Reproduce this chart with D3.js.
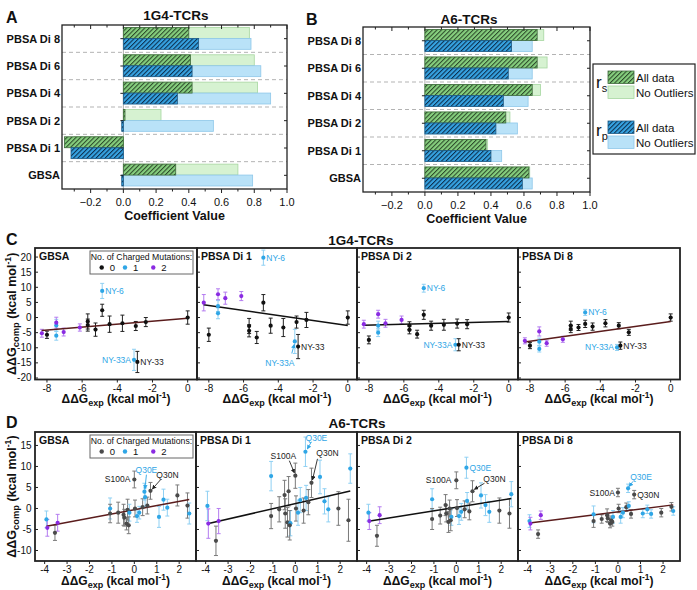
<!DOCTYPE html>
<html><head><meta charset="utf-8">
<script src="https://cdn.jsdelivr.net/npm/d3@7"></script>
<style>body{margin:0;background:#fff}</style>
</head><body>
<script>
// ---------------- DATA ----------------
const methods = ["PBSA Di 8","PBSA Di 6","PBSA Di 4","PBSA Di 2","PBSA Di 1","GBSA"];
const coefTicks = [-0.2,0,0.2,0.4,0.6,0.8,1.0];
// 1G4 correlation coefficients
const g1RsAll   = [0.40,0.41,0.42,0.01,-0.36,0.32];
const g1RsNoOut = [0.77,0.80,0.82,0.23,-0.30,0.70];
const g1RpAll   = [0.46,0.42,0.33,-0.01,-0.32,-0.01];
const g1RpNoOut = [0.78,0.84,0.90,0.55,-0.28,0.79];
// A6 correlation coefficients
const a6RsAll   = [0.68,0.68,0.65,0.49,0.37,0.63];
const a6RsNoOut = [0.72,0.74,0.70,0.515,0.38,0.635];
const a6RpAll   = [0.525,0.505,0.475,0.43,0.40,0.59];
const a6RpNoOut = [0.65,0.65,0.625,0.56,0.465,0.65];

const scatterPanels = ["GBSA","PBSA Di 1","PBSA Di 2","PBSA Di 8"];
const chargeLevels = [0,1,2];

// 1G4 mutants (panel C)
const g1Exp    = [-8.29,-8.0,-7.47,-7.47,-7.47,-7.05,-6.13,-5.68,-5.68,-5.24,-4.86,-4.86,-4.44,-3.71,-3.05,-2.95,-2.86,-2.38,0];
const g1Charge = [2,0,1,1,2,2,2,0,0,0,0,1,0,0,1,0,0,0,0];
const g1Names  = ["","","","","","","","","","","","NY-6","","","NY-33A","","NY-33","",""];
const g1CompGBSA = [-5.2,-5.7,-2.6,-6.0,-1.7,-4.8,-3.3,-1.3,-2.5,-4.0,2.4,8.8,-2.2,-1.9,-14.0,-2.8,-14.7,-1.5,0.0];
const g1ErrGBSA  = [1.3,1.2,2.0,1.5,1.8,1.3,1.2,2.5,2.0,2.2,2.0,2.5,2.7,2.7,3.5,1.5,3.5,1.5,2.2];
const g1CompDi1  = [4.9,-5.7,3.8,1.4,7.7,6.4,7.1,-2.8,-4.4,-6.6,4.9,19.8,-2.7,-3.3,-7.9,-1.5,-9.6,-0.8,0.0];
const g1ErrDi1   = [2.7,2.2,1.8,1.8,1.8,2.0,1.5,2.5,2.0,2.0,2.7,2.5,2.5,3.0,4.0,2.0,4.0,2.5,2.2];
const g1CompDi2  = [-2.2,-7.4,-2.7,-5.0,1.1,-1.9,-0.8,-2.7,-4.1,-5.5,0.9,9.7,-2.7,-2.4,-9.0,-2.0,-9.0,-2.2,0.0];
const g1ErrDi2   = [1.3,1.3,1.5,1.3,1.3,1.3,1.3,1.3,1.3,1.3,1.5,1.3,1.5,1.8,2.0,1.5,2.0,1.5,1.5];
const g1CompDi8  = [-7.7,-9.3,-8.0,-10.4,-4.6,-8.5,-7.2,-2.7,-3.8,-3.3,-2.1,1.7,-3.0,-1.9,-9.9,-2.7,-9.3,-4.9,0.0];
const g1ErrDi8   = [1.0,1.0,1.2,1.0,1.5,1.0,1.0,1.5,1.2,1.0,1.2,1.0,1.2,1.2,1.0,1.0,1.2,1.0,1.2];
const g1FitIntercept = [-0.2,-2.6,-1.35,-1.35];
const g1FitSlope     = [0.49,-0.82,0.15,0.81];
const g1FitRange     = [-8.3,0];

// A6 mutants (panel D)
const a6Exp    = [-3.92,-3.88,-3.54,-3.42,-1.08,-1.08,-0.72,-0.48,-0.45,-0.35,-0.30,-0.22,-0.25,0.0,0.03,0.12,0.22,0.37,0.45,0.48,0.58,0.72,1.1,1.3,1.47,1.92,2.37,2.45];
const a6Charge = [1,2,0,2,1,0,0,0,0,0,0,1,0,0,0,1,1,0,1,1,0,0,1,1,1,0,0,1];
const a6Names  = ["","","","","","","","","","","","","","S100A","","","","","Q30E","","","Q30N","","","","","",""];
const a6CompGBSA = [-2.6,-4.6,-5.8,-3.4,0.0,-1.2,-1.0,-1.5,-2.2,-3.6,-0.3,-1.0,-4.0,6.9,0.0,-1.8,-1.0,0.3,4.0,2.7,0.7,4.2,-2.0,2.1,0.2,3.1,0.7,-1.2];
const a6ErrGBSA  = [2.0,2.0,1.8,2.0,2.5,2.2,2.5,2.5,2.0,1.5,2.5,2.0,2.0,2.0,2.0,1.5,1.5,2.0,2.0,2.2,2.0,2.0,2.5,2.5,2.0,2.5,3.0,2.5];
const a6CompDi1  = [0.6,-3.6,-7.7,-3.0,7.7,-1.8,-0.2,3.2,-1.2,-3.3,4.1,-3.5,-4.0,7.8,0.0,-1.0,2.0,-0.5,13.5,2.5,1.5,6.1,7.5,1.7,-0.2,0.0,-2.8,9.5];
const a6ErrDi1   = [3.5,3.5,3.5,3.0,3.5,3.0,3.0,3.5,3.5,3.5,3.5,3.0,3.5,3.0,3.0,3.0,3.0,3.0,3.5,3.0,3.0,3.5,4.0,3.0,3.0,4.0,5.0,3.5];
const a6CompDi2  = [-1.0,-3.0,-6.5,-1.6,2.2,-2.5,-1.7,0.8,-1.2,-3.2,0.0,-2.0,-2.8,6.7,0.1,-1.8,-0.8,-0.2,9.7,1.8,-0.7,4.1,3.1,0.8,-0.8,-0.5,-1.2,3.4];
const a6ErrDi2   = [2.0,2.0,2.5,2.0,2.5,2.5,2.0,2.5,2.0,2.5,2.0,2.0,2.5,2.0,2.0,2.0,2.0,2.0,2.5,2.0,2.0,2.5,3.0,2.5,2.5,3.0,3.5,3.0];
const a6CompDi8  = [-3.0,-3.6,-6.1,-1.6,-1.4,-3.0,-2.5,-1.6,-2.3,-3.6,-2.8,-2.0,-3.2,3.8,0.0,-2.0,-1.0,0.3,4.8,0.6,-1.3,3.3,-1.2,-0.2,-1.3,-1.0,0.4,-0.6];
const a6ErrDi8   = [1.5,1.5,1.0,1.0,2.0,1.5,1.0,1.5,1.0,1.0,1.0,1.5,1.0,1.0,1.0,1.5,1.2,1.0,1.0,1.0,1.0,1.0,1.0,1.0,1.0,1.0,1.0,1.0];
const a6FitIntercept = [-0.3,1.17,0.29,-0.81];
const a6FitSlope     = [1.0,1.23,0.85,0.68];
const a6FitRange     = [-3.92,2.45];

const cTicksX = [-8,-6,-4,-2,0];
const cTicksY = [-20,-15,-10,-5,0,5,10,15,20];
const dTicksX = [-4,-3,-2,-1,0,1,2];
const dTicksY = [-10,-5,0,5,10,15];

// ---------------- DRAWING ----------------
const FONT = "Arial, 'Liberation Sans', Helvetica, sans-serif";
const svg = d3.select("body").append("svg").attr("width",697).attr("height",590)
  .style("font-family",FONT);
const defs = svg.append("defs");
function hatch(id,bg,line){
  const p = defs.append("pattern").attr("id",id).attr("patternUnits","userSpaceOnUse")
    .attr("width",3.2).attr("height",3.2).attr("patternTransform","rotate(45)");
  p.append("rect").attr("width",3.2).attr("height",3.2).attr("fill",bg);
  p.append("line").attr("x1",0.5).attr("y1",0).attr("x2",0.5).attr("y2",3.2).attr("stroke",line).attr("stroke-width",1.1);
}
hatch("hg","#86cf7e","#2c4a2a");
hatch("hb","#36a3e2","#0c2e4c");
const COL = {lgF:"#d6f2d1",lgS:"#a6d6a0",lbF:"#b9e2f8",lbS:"#8ec7e9",hgS:"#3f6a3c",hbS:"#1d5a85"};
defs.append("marker").attr("id","arrK").attr("viewBox","0 0 6 6").attr("refX",5).attr("refY",3)
  .attr("markerWidth",5).attr("markerHeight",5).attr("orient","auto")
  .append("path").attr("d","M0,0 L6,3 L0,6 z").attr("fill","#222");
defs.append("marker").attr("id","arrC").attr("viewBox","0 0 6 6").attr("refX",5).attr("refY",3)
  .attr("markerWidth",5).attr("markerHeight",5).attr("orient","auto")
  .append("path").attr("d","M0,0 L6,3 L0,6 z").attr("fill","#2fa6e6");

function txt(x,y,s,opt={}){
  const t = svg.append("text").attr("x",x).attr("y",y).text(s)
    .attr("font-size",opt.fs||11).attr("font-weight",opt.fw||"normal")
    .attr("text-anchor",opt.anchor||"start").attr("fill",opt.fill||"#111");
  return t;
}

function barPanel(o){
  const x = d3.scaleLinear().domain([-0.375,1.0]).range([o.x0,o.x1]);
  const y = d3.scaleBand().domain(methods).range([o.y0,o.y1]);
  const bw = y.bandwidth(), bh = bw*0.4, off = bw*0.09;
  const g = svg.append("g");
  // separators
  methods.slice(1).forEach(m=>{
    g.append("line").attr("x1",o.x0).attr("x2",o.x1).attr("y1",y(m)).attr("y2",y(m))
      .attr("stroke","#aaa").attr("stroke-dasharray","4,3").attr("stroke-width",0.9);
  });
  g.append("line").attr("x1",x(0)).attr("x2",x(0)).attr("y1",o.y0).attr("y2",o.y1)
    .attr("stroke","#999").attr("stroke-width",0.8);
  function bars(vals,dy,fill,stroke){
    g.selectAll(null).data(vals).enter().append("rect")
      .attr("x",v=>Math.min(x(0),x(v))).attr("width",v=>Math.abs(x(v)-x(0)))
      .attr("y",(v,i)=>y(methods[i])+off+dy).attr("height",bh)
      .attr("fill",fill).attr("stroke",stroke).attr("stroke-width",0.8);
  }
  bars(o.rsNo,0,COL.lgF,COL.lgS);
  bars(o.rpNo,bh,COL.lbF,COL.lbS);
  bars(o.rsAll,0,"url(#hg)",COL.hgS);
  bars(o.rpAll,bh,"url(#hb)",COL.hbS);
  // frame
  g.append("rect").attr("x",o.x0).attr("y",o.y0).attr("width",o.x1-o.x0).attr("height",o.y1-o.y0)
    .attr("fill","none").attr("stroke","#222").attr("stroke-width",1.3);
  // ticks
  const minor = d3.range(-0.3,1.001,0.1);
  minor.forEach(v=>{
    const major = coefTicks.some(t=>Math.abs(t-v)<1e-6);
    const L = major?4:2.5;
    g.append("line").attr("x1",x(v)).attr("x2",x(v)).attr("y1",o.y1).attr("y2",o.y1+L).attr("stroke","#222");
    g.append("line").attr("x1",x(v)).attr("x2",x(v)).attr("y1",o.y0).attr("y2",o.y0+L).attr("stroke","#222");
  });
  methods.forEach(m=>{
    const yc = y(m)+bw/2;
    g.append("line").attr("x1",o.x1).attr("x2",o.x1-3).attr("y1",yc).attr("y2",yc).attr("stroke","#222");
    g.append("line").attr("x1",x(0)).attr("x2",x(0)-3).attr("y1",yc).attr("y2",yc).attr("stroke","#222");
    txt(o.x0-2,yc+4,m,{fs:11,fw:"bold",anchor:"end"});
  });
  coefTicks.forEach(t=>txt(x(t),o.y1+16.5,d3.format(".1f")(t),{fs:11,anchor:"middle"}));
  txt((o.x0+o.x1)/2,o.y1+30.5,"Coefficient Value",{fs:12.5,fw:"bold",anchor:"middle"});
  txt(o.titleX,o.titleY,o.title,{fs:13.5,fw:"bold",anchor:"middle"});
  txt(o.letterX,o.letterY,o.letter,{fs:16,fw:"bold"});
}

barPanel({x0:62,x1:287,y0:25,y1:189,rsAll:g1RsAll,rsNo:g1RsNoOut,rpAll:g1RpAll,rpNo:g1RpNoOut,
  title:"1G4-TCRs",titleX:176,titleY:20,letter:"A",letterX:6,letterY:23});
barPanel({x0:363,x1:590,y0:27,y1:192,rsAll:a6RsAll,rsNo:a6RsNoOut,rpAll:a6RpAll,rpNo:a6RpNoOut,
  title:"A6-TCRs",titleX:469,titleY:24,letter:"B",letterX:306,letterY:25});

// Legend for bars
(function(){
  const g = svg.append("g");
  g.append("rect").attr("x",593).attr("y",64).attr("width",102).attr("height",90)
    .attr("fill","#fff").attr("stroke","#222").attr("stroke-width",1.2);
  const sw = [[71,"url(#hg)",COL.hgS,"All data"],[86,COL.lgF,COL.lgS,"No Outliers"],
              [121,"url(#hb)",COL.hbS,"All data"],[136,COL.lbF,COL.lbS,"No Outliers"]];
  sw.forEach(s=>{
    g.append("rect").attr("x",608).attr("y",s[0]).attr("width",26).attr("height",12.5)
      .attr("fill",s[1]).attr("stroke",s[2]).attr("stroke-width",0.8);
    txt(636,s[0]+10.5,s[3],{fs:11.5});
  });
  const r1 = txt(596,88,"r",{fs:17});
  r1.append("tspan").attr("font-size",11).attr("dy",4).text("s");
  const r2 = txt(596,136,"r",{fs:17});
  r2.append("tspan").attr("font-size",11).attr("dy",4).text("p");
})();

const chargeColor = {C:["#111","#2fa6e6","#8a2be2"], D:["#4a4a4a","#2fa6e6","#8a2be2"]};
const errColor = {C:["#222","#8fd0f3","#b47cf0"], D:["#7a7a7a","#8fd0f3","#b47cf0"]};

function ddgLabel(t,fs,sub){
  t.append("tspan").text("ΔΔG");
  t.append("tspan").attr("font-size",fs*0.75).attr("dy",fs*0.25).text(sub);
  t.append("tspan").attr("dy",-fs*0.25).text(" (kcal mol");
  t.append("tspan").attr("font-size",fs*0.7).attr("dy",-fs*0.42).text("-1");
  t.append("tspan").attr("dy",fs*0.42).text(")");
}

function scatterRow(o){
  o.panels.forEach((pn,i)=>{
    const x = d3.scaleLinear().domain(o.xDomain).range([o.edges[i],o.edges[i+1]]);
    const y = d3.scaleLinear().domain(o.yDomain).range([o.bot,o.top]);
    const g = svg.append("g");
    const ys = o.ys[i], es = o.errs[i];
    // error bars
    o.exp.forEach((xv,k)=>{
      const c = errColor[o.key][o.charge[k]];
      const y1 = y(ys[k]-es[k]), y2 = y(ys[k]+es[k]);
      g.append("line").attr("x1",x(xv)).attr("x2",x(xv)).attr("y1",y1).attr("y2",y2).attr("stroke",c).attr("stroke-width",1);
      [y1,y2].forEach(yy=>g.append("line").attr("x1",x(xv)-2).attr("x2",x(xv)+2).attr("y1",yy).attr("y2",yy).attr("stroke",c).attr("stroke-width",1));
    });
    // fit line
    const a = o.fitA[i], b = o.fitB[i];
    g.append("line").attr("x1",x(o.fitRange[0])).attr("x2",x(o.fitRange[1]))
      .attr("y1",y(a+b*o.fitRange[0])).attr("y2",y(a+b*o.fitRange[1]))
      .attr("stroke",o.fitColor[i]).attr("stroke-width",1.5);
    // points
    o.exp.forEach((xv,k)=>{
      g.append("circle").attr("cx",x(xv)).attr("cy",y(ys[k])).attr("r",2.1)
        .attr("fill",chargeColor[o.key][o.charge[k]]);
    });
    // annotations
    o.exp.forEach((xv,k)=>{
      const nm = o.names[k]; if(!nm) return;
      const st = o.labelStyle[i][nm]; if(!st) return;
      const px = x(xv), py = y(ys[k]);
      const col = o.charge[k]===1 ? "#2fa6e6" : "#222";
      txt(px+st[0],py+st[1],nm,{fs:8.5,anchor:st[2],fill:col});
      if(st[3]){
        g.append("line").attr("x1",px+st[3][0]).attr("y1",py+st[3][1]).attr("x2",px+st[3][2]).attr("y2",py+st[3][3])
          .attr("stroke",col).attr("stroke-width",0.9).attr("marker-end",o.charge[k]===1?"url(#arrC)":"url(#arrK)");
      }
    });
    // frame
    g.append("rect").attr("x",o.edges[i]).attr("y",o.top).attr("width",o.edges[i+1]-o.edges[i]).attr("height",o.bot-o.top)
      .attr("fill","none").attr("stroke","#222").attr("stroke-width",1.8);
    // ticks
    o.yTicks.forEach(t=>{
      g.append("line").attr("x1",o.edges[i]).attr("x2",o.edges[i]+3).attr("y1",y(t)).attr("y2",y(t)).attr("stroke","#222");
      if(i===0) txt(o.edges[0]-3.5,y(t)+3.5,t,{fs:10,anchor:"end"});
    });
    o.xTicks.forEach(t=>{
      g.append("line").attr("x1",x(t)).attr("x2",x(t)).attr("y1",o.bot).attr("y2",o.bot+3).attr("stroke","#222");
      txt(x(t),o.bot+12,t,{fs:10,anchor:"middle"});
    });
    txt(o.edges[i]+4,o.top+11.5,pn,{fs:10.5,fw:"bold"});
    const xl = txt((o.edges[i]+o.edges[i+1])/2,o.bot+o.xLabelDy,"",{fs:12,fw:"bold",anchor:"middle"});
    ddgLabel(xl,12,"exp");
  });
  // y label
  const yl = svg.append("text").attr("transform",`translate(${o.yLabelX},${(o.top+o.bot)/2}) rotate(-90)`)
    .attr("text-anchor","middle").attr("font-size",12.5).attr("font-weight","bold").attr("fill","#111");
  ddgLabel(yl,12.5,"comp");
  // legend
  const lg = svg.append("g");
  lg.append("rect").attr("x",90).attr("y",o.legY).attr("width",103).attr("height",23)
    .attr("fill","#fff").attr("stroke","#666").attr("stroke-width",1);
  txt(141.5,o.legY+8.5,"No. of Charged Mutations:",{fs:8.7,anchor:"middle"});
  const lx = [101.7,125,153.3];
  chargeLevels.forEach((c,j)=>{
    lg.append("circle").attr("cx",lx[j]).attr("cy",o.legY+16.5).attr("r",2.2).attr("fill",chargeColor[o.key][c]);
    txt(lx[j]+8,o.legY+20,c,{fs:9.5});
  });
  txt(o.titleX,o.titleY,o.title,{fs:13.5,fw:"bold",anchor:"middle"});
  txt(6,o.titleY,o.letter,{fs:16,fw:"bold"});
}

scatterRow({key:"C",edges:[35,197,357,518,680],top:248,bot:379.5,xDomain:[-8.68,0.53],yDomain:[-20.5,23],
  panels:scatterPanels,exp:g1Exp,charge:g1Charge,names:g1Names,
  ys:[g1CompGBSA,g1CompDi1,g1CompDi2,g1CompDi8],errs:[g1ErrGBSA,g1ErrDi1,g1ErrDi2,g1ErrDi8],
  fitA:g1FitIntercept,fitB:g1FitSlope,fitRange:g1FitRange,fitColor:["#5a1c1c","#111","#111","#5a1c1c"],
  xTicks:cTicksX,yTicks:cTicksY,xLabelDy:23.5,yLabelX:16,legY:251,title:"1G4-TCRs",titleX:361,titleY:245,letter:"C",
  labelStyle:[
    {"NY-6":[3,3,"start"],"NY-33A":[-3,3,"end"],"NY-33":[3,3,"start"]},
    {"NY-6":[3,3,"start"],"NY-33A":[-15,25,"middle",[-3,12,-0.5,3]],"NY-33":[3,3,"start"]},
    {"NY-6":[3,3,"start"],"NY-33A":[-3,3,"end"],"NY-33":[3,3,"start"]},
    {"NY-6":[3,3,"start"],"NY-33A":[-3,3,"end"],"NY-33":[3,3,"start"]}
  ]});

scatterRow({key:"D",edges:[35,196,357,518,680],top:432,bot:561,xDomain:[-4.43,2.75],yDomain:[-12.5,18.2],
  panels:scatterPanels,exp:a6Exp,charge:a6Charge,names:a6Names,
  ys:[a6CompGBSA,a6CompDi1,a6CompDi2,a6CompDi8],errs:[a6ErrGBSA,a6ErrDi1,a6ErrDi2,a6ErrDi8],
  fitA:a6FitIntercept,fitB:a6FitSlope,fitRange:a6FitRange,fitColor:["#5a1c1c","#111","#111","#5a1c1c"],
  xTicks:dTicksX,yTicks:dTicksY,xLabelDy:24,yLabelX:16,legY:435,title:"A6-TCRs",titleX:357,titleY:428,letter:"D",
  labelStyle:[
    {"S100A":[-4,3,"end"],"Q30E":[2,-19,"middle",[2,-17,0.5,-3]],"Q30N":[17,-13,"middle",[10,-11,2,-2]]},
    {"S100A":[-12,-17,"middle",[-6,-15,-1,-3]],"Q30E":[11,-11,"middle",[6,-10,2,-3]],"Q30N":[16,-27,"middle",[6,-24,1,-3]]},
    {"S100A":[-5,3,"end"],"Q30E":[3,3,"start"],"Q30N":[22,-9,"middle",[12,-8,2,-2]]},
    {"S100A":[-3,3,"end"],"Q30E":[13,-8,"middle",[5,-7,1,-2]],"Q30N":[3,3,"start"]}
  ]});
</script>
</body></html>
